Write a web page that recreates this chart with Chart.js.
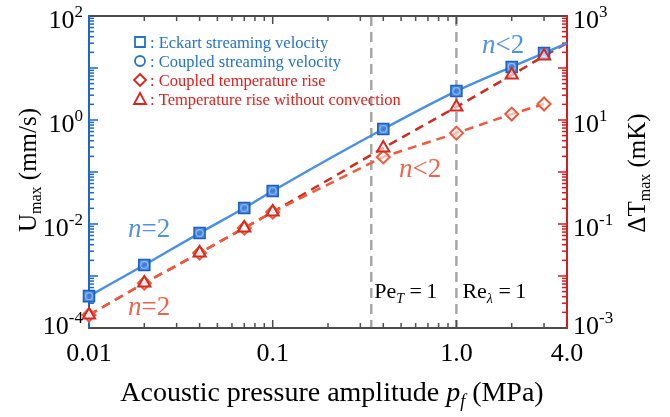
<!DOCTYPE html>
<html>
<head>
<meta charset="utf-8">
<script src="https://cdn.jsdelivr.net/npm/chart.js@4.4.1/dist/chart.umd.min.js"></script>
<style>
  html, body { margin: 0; padding: 0; background: #fff; }
</style>
</head>
<body>
<canvas id="myChart" width="670" height="417"></canvas>
<script>
// acoustic pressure amplitude (MPa) where the simulations were run
const pressure = [0.01, 0.02, 0.04, 0.07, 0.1, 0.4, 1.0, 2.0, 3.0];

// streaming velocity, mm/s (left axis)
const eckartVel  = [4.1e-4, 1.63e-3, 6.7e-3, 0.0203, 0.0431, 0.671, 3.6, 10.5, 19.4];
const coupledVel = [4.1e-4, 1.63e-3, 6.7e-3, 0.0203, 0.0431, 0.671, 3.6, 10.5, 19.4];

// temperature rise, mK (right axis)
const coupledTemp = [1.78e-3, 7.3e-3, 0.0277, 0.0838, 0.17, 1.95, 5.6, 13.0, 20.3];
const tempNoConv  = [1.78e-3, 7.3e-3, 0.0277, 0.0838, 0.17, 2.9, 17.8, 73, 170];

// fitted curves
const velFitP = [0.01, 0.02, 0.04, 0.07, 0.1, 0.4, 1.0, 2.0, 3.0, 4.0];
const velFit  = [4.1e-4, 1.63e-3, 6.7e-3, 0.0203, 0.0431, 0.671, 3.6, 10.5, 19.4, 30];
const tempFitP = [0.01, 0.02, 0.04, 0.07, 0.1, 0.4, 1.0, 2.0, 3.0, 4.0];
const tempFit  = [1.78e-3, 7.3e-3, 0.0277, 0.0838, 0.17, 2.9, 17.8, 73, 170, 300];

// dimensionless numbers equal to one
const peOne = 0.344;
const reOne = 1.0;

const xTickLabels = ['0.01', '0.1', '1.0', '4.0'];
const xTickValues = [0.01, 0.1, 1.0, 4.0];
const leftExps = [2, 0, -2, -4];
const rightExps = [3, 1, -1, -3];

const serif = '"Liberation Serif", "Times New Roman", serif';
const BLUE_AX = '#1d66c9';
const RED_AX = '#cf1f1f';
const GRAY_AX = '#4d4d4d';

const pts = (xs, ys) => xs.map((v, i) => ({x: v, y: ys[i]}));

// draws a row of text runs (for subscripts)
function runs(ctx, parts, x, y, align, color) {
  ctx.fillStyle = color;
  ctx.textBaseline = 'alphabetic';
  ctx.textAlign = 'left';
  let total = 0;
  parts.forEach(p => { ctx.font = p.f; p.w = ctx.measureText(p.t).width; total += p.w; });
  let cx = align === 'center' ? x - total / 2 : (align === 'right' ? x - total : x);
  parts.forEach(p => {
    ctx.font = p.f;
    ctx.fillText(p.t, cx, y + (p.dy || 0));
    cx += p.w;
  });
}

function sci(ctx, exp, x, y, align, color) {
  runs(ctx, [
    {t: '10', f: '26px ' + serif},
    {t: String(exp), f: '17px ' + serif, dy: -11}
  ], x, y, align, color);
}

function logTicks(lo, hi, scale) {
  const out = [];
  for (let d = lo; d <= hi; d++) {
    for (let m = 1; m <= 9; m++) {
      const v = m * Math.pow(10, d);
      if (v < scale.min * 0.999 || v > scale.max * 1.001) continue;
      out.push({v: v, major: m === 1});
    }
  }
  return out;
}

function seg(ctx, x1, y1, x2, y2) {
  ctx.beginPath(); ctx.moveTo(x1, y1); ctx.lineTo(x2, y2); ctx.stroke();
}

const framePlugin = {
  id: 'frame',
  beforeDatasetsDraw(chart) {
    const {ctx, chartArea: a, scales} = chart;
    const x = scales.x, y = scales.y, y1 = scales.y1;
    ctx.save();
    // dashed markers for Pe_T = 1 and Re_lambda = 1
    ctx.strokeStyle = '#a6a6a6';
    ctx.lineWidth = 2.5;
    ctx.setLineDash([10, 6]);
    [peOne, reOne].forEach(v => {
      const px = x.getPixelForValue(v);
      seg(ctx, px, a.top, px, a.bottom);
    });
    ctx.setLineDash([]);

    // x ticks, bottom and top, pointing inwards
    ctx.lineWidth = 1.5;
    ctx.strokeStyle = GRAY_AX;
    logTicks(-2, 0, x).forEach(t => {
      const px = x.getPixelForValue(t.v);
      const len = t.major ? 8 : 5;
      seg(ctx, px, a.bottom, px, a.bottom - len);
      seg(ctx, px, a.top, px, a.top + len);
    });
    // left ticks
    ctx.strokeStyle = BLUE_AX;
    logTicks(-4, 2, y).forEach(t => {
      const py = y.getPixelForValue(t.v);
      seg(ctx, a.left, py, a.left + (t.major ? 9 : 5), py);
    });
    // right ticks
    ctx.strokeStyle = RED_AX;
    logTicks(-3, 3, y1).forEach(t => {
      const py = y1.getPixelForValue(t.v);
      seg(ctx, a.right, py, a.right - (t.major ? 9 : 5), py);
    });

    // axis lines
    ctx.lineWidth = 2;
    ctx.strokeStyle = GRAY_AX;
    seg(ctx, a.left, a.top, a.right, a.top);
    seg(ctx, a.left, a.bottom, a.right, a.bottom);
    ctx.strokeStyle = BLUE_AX;
    seg(ctx, a.left, a.top - 1, a.left, a.bottom + 1);
    ctx.strokeStyle = RED_AX;
    seg(ctx, a.right, a.top - 1, a.right, a.bottom + 1);
    ctx.restore();
  },
  afterDatasetsDraw(chart) {
    const {ctx, chartArea: a, scales} = chart;
    const x = scales.x, y = scales.y, y1 = scales.y1;
    ctx.save();

    // tick labels
    ctx.fillStyle = '#000';
    ctx.font = '26px ' + serif;
    ctx.textAlign = 'center';
    ctx.textBaseline = 'alphabetic';
    xTickValues.forEach((v, i) => {
      ctx.fillText(xTickLabels[i], x.getPixelForValue(v), a.bottom + 33);
    });
    leftExps.forEach(e => {
      const py = y.getPixelForValue(Math.pow(10, e));
      sci(ctx, e, a.left - 6, Math.min(Math.max(py + 12, a.top + 8), a.bottom + 6), 'right', '#000');
    });
    rightExps.forEach(e => {
      const py = y1.getPixelForValue(Math.pow(10, e));
      sci(ctx, e, a.right + 6, Math.min(Math.max(py + 12, a.top + 8), a.bottom + 6), 'left', '#000');
    });

    // axis titles
    runs(ctx, [
      {t: 'Acoustic pressure amplitude ', f: '28px ' + serif},
      {t: 'p', f: 'italic 28px ' + serif},
      {t: 'f', f: 'italic 18px ' + serif, dy: 6},
      {t: ' (MPa)', f: '28px ' + serif}
    ], 332, 401, 'center', '#000');

    ctx.save();
    ctx.translate(36, 170);
    ctx.rotate(-Math.PI / 2);
    runs(ctx, [
      {t: 'U', f: '25px ' + serif},
      {t: 'max', f: '16px ' + serif, dy: 5},
      {t: ' (mm/s)', f: '25px ' + serif}
    ], 0, 0, 'center', '#000');
    ctx.restore();

    ctx.save();
    ctx.translate(645, 173);
    ctx.rotate(-Math.PI / 2);
    runs(ctx, [
      {t: '\u0394T', f: '25px ' + serif},
      {t: 'max', f: '16px ' + serif, dy: 5},
      {t: ' (mK)', f: '25px ' + serif}
    ], 0, 0, 'center', '#000');
    ctx.restore();

    // Pe / Re annotations
    runs(ctx, [
      {t: 'Pe', f: '22px ' + serif},
      {t: 'T', f: 'italic 14px ' + serif, dy: 5},
      {t: ' =\u20091', f: '22px ' + serif}
    ], x.getPixelForValue(peOne) + 3, 298, 'left', '#000');
    runs(ctx, [
      {t: 'Re', f: '22px ' + serif},
      {t: '\u03bb', f: 'italic 14px ' + serif, dy: 5},
      {t: ' =\u20091', f: '22px ' + serif}
    ], x.getPixelForValue(reOne) + 6, 298, 'left', '#000');

    // slope labels
    const nLab = (sym, px, py, color) => runs(ctx, [
      {t: 'n', f: 'italic 27px ' + serif},
      {t: sym, f: '27px ' + serif}
    ], px, py, 'left', color);
    nLab('=2', 128, 237, '#4f93e2');
    nLab('=2', 128, 315, '#f0624c');
    nLab('<2', 482, 53, '#4f93e2');
    nLab('<2', 399, 177, '#f0624c');

    // legend
    const lx = 140;
    const rows = [
      {y: 42, c: '#2273c9', s: 'sq', t: ': Eckart streaming velocity'},
      {y: 61, c: '#2273c9', s: 'ci', t: ': Coupled streaming velocity'},
      {y: 80, c: '#e0201c', s: 'di', t: ': Coupled temperature rise'},
      {y: 99, c: '#e0201c', s: 'tr', t: ': Temperature rise without convection'}
    ];
    rows.forEach(r => {
      ctx.strokeStyle = r.c;
      ctx.lineWidth = 1.8;
      ctx.beginPath();
      if (r.s === 'sq') ctx.rect(lx - 5, r.y - 5, 10, 10);
      if (r.s === 'ci') ctx.arc(lx, r.y, 5, 0, Math.PI * 2);
      if (r.s === 'di') { ctx.moveTo(lx, r.y - 6); ctx.lineTo(lx + 6, r.y); ctx.lineTo(lx, r.y + 6); ctx.lineTo(lx - 6, r.y); ctx.closePath(); }
      if (r.s === 'tr') { ctx.moveTo(lx, r.y - 6); ctx.lineTo(lx + 6, r.y + 5); ctx.lineTo(lx - 6, r.y + 5); ctx.closePath(); }
      ctx.stroke();
      ctx.fillStyle = r.c;
      ctx.font = '16.5px ' + serif;
      ctx.textAlign = 'left';
      ctx.fillText(r.t, lx + 10, r.y + 5.5);
    });
    ctx.restore();
  }
};

const data = {
  datasets: [
    {
      label: 'Temperature rise without convection',
      data: pts(pressure, tempNoConv),
      yAxisID: 'y1',
      pointStyle: 'triangle',
      pointRadius: 7,
      borderColor: '#d42a20',
      backgroundColor: 'rgba(255,255,255,0.6)',
      pointBorderWidth: 2
    },
    {
      label: 'Coupled temperature rise',
      data: pts(pressure, coupledTemp),
      yAxisID: 'y1',
      pointStyle: 'rectRot',
      pointRadius: 6.5,
      borderColor: '#ef5a3c',
      backgroundColor: 'rgba(255,255,255,0.6)',
      pointBorderWidth: 2
    },
    {
      label: 'Coupled streaming velocity',
      data: pts(pressure, coupledVel),
      yAxisID: 'y',
      pointStyle: 'circle',
      pointRadius: 3.5,
      borderColor: 'rgba(150,190,245,0.9)',
      backgroundColor: 'rgba(0,0,0,0)',
      pointBorderWidth: 1.2
    },
    {
      label: 'Eckart streaming velocity',
      data: pts(pressure, eckartVel),
      yAxisID: 'y',
      pointStyle: 'rect',
      pointRadius: 7.8,
      borderColor: '#1a5fc4',
      backgroundColor: 'rgba(62,128,216,0.9)',
      pointBorderWidth: 1.5
    },
    {
      label: 'velocity fit',
      data: pts(velFitP, velFit),
      yAxisID: 'y',
      showLine: true,
      pointRadius: 0,
      borderColor: '#4a90e2',
      borderWidth: 2.5,
      cubicInterpolationMode: 'monotone'
    },
    {
      label: 'coupled temperature line',
      data: pts(pressure, coupledTemp),
      yAxisID: 'y1',
      showLine: true,
      pointRadius: 0,
      borderColor: '#ef5a3c',
      borderWidth: 2.5,
      borderDash: [9, 6]
    },
    {
      label: 'temperature fit',
      data: pts(tempFitP, tempFit),
      yAxisID: 'y1',
      showLine: true,
      pointRadius: 0,
      borderColor: '#d02a1e',
      borderWidth: 2.5,
      borderDash: [9, 6]
    }
  ]
};

const config = {
  type: 'scatter',
  data,
  options: {
    responsive: false,
    animation: false,
    devicePixelRatio: 1,
    layout: { padding: { left: 89, top: 16, right: 103, bottom: 89 } },
    plugins: { legend: { display: false }, tooltip: { enabled: false } },
    datasets: { scatter: { clip: false } },
    scales: {
      x: { type: 'logarithmic', min: 0.01, max: 4, display: false },
      y: { type: 'logarithmic', min: 1e-4, max: 1e2, display: false },
      y1: { type: 'logarithmic', min: 1e-3, max: 1e3, display: false, position: 'right' }
    }
  },
  plugins: [framePlugin]
};

var myChart = new Chart(document.getElementById('myChart'), config);
</script>
</body>
</html>
